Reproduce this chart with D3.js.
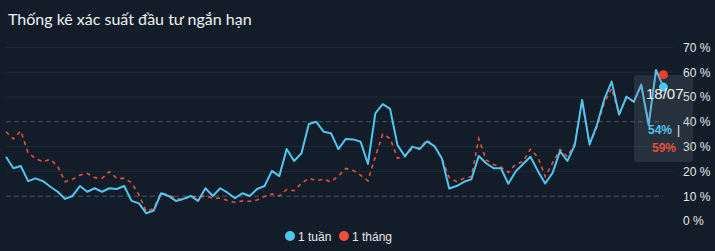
<!DOCTYPE html>
<html><head><meta charset="utf-8">
<script src="https://cdn.jsdelivr.net/npm/d3@7"></script>
<style>
html,body{margin:0;padding:0;background:#131d29;}
svg{display:block;}
</style></head>
<body>
<svg id="c" width="715" height="251"></svg>
<script>
const title = "Thống kê xác suất đầu tư ngắn hạn";
const seriesNames = ["1 tuần", "1 tháng"];
const yTicks = [0, 10, 20, 30, 40, 50, 60, 70];
const dashedTicks = [10, 40];
const tooltipDate = "18/07";
const week = [25.9,21.3,22.2,16.1,17.2,16.1,13.8,11.8,8.9,10.1,14.1,11.8,13.2,11.8,13.2,12.9,14.1,8.1,7.1,3.1,
  4.2,11.2,10.1,8.1,8.9,10.1,8.1,13.2,10.1,13.2,11.4,9.2,11.2,10.1,12.9,14.1,20.2,18.1,29.0,24.2,
  27.3,39.1,40.0,36.0,35.4,29.0,33.1,32.9,32.0,23.0,43.4,47.1,45.2,30.6,26.1,30.0,29.0,32.1,30.2,25.3,
  13.1,14.1,15.8,16.8,26.2,23.3,21.3,21.3,15.0,20.0,23.0,25.9,20.2,15.1,19.4,28.2,24.2,30.6,48.8,30.9,
  38.7,49.1,56.2,42.9,50.1,48.1,55.0,38.7,60.9,54];
const month = [36.0,33.1,36.3,27.4,25.2,23.9,24.9,22.0,15.8,16.8,18.5,19.2,17.5,17.2,19.9,17.2,17.2,15.5,10.5,3.8,
  5.1,11.4,10.5,9.2,8.5,10.1,9.7,10.1,9.2,9.2,8.3,7.5,8.1,7.9,8.5,9.9,10.9,10.1,12.7,12.2,
  15.2,17.2,16.3,16.8,15.8,18.1,21.2,20.4,18.5,16.2,25.9,35.0,33.3,25.3,25.9,29.3,29.5,32.7,30.0,25.3,
  17.5,15.9,17.2,17.9,33.2,24.6,22.8,21.8,19.6,22.9,24.0,28.9,25.8,17.9,23.4,28.9,25.9,31.3,48.0,31.0,
  37.9,47.6,53.5,42.9,50.0,48.0,54.4,40.0,60.0,59];
const colors = ["#4fc6ef", "#e5503b"];

const svg = d3.select("#c");
const N = week.length;
const x = d3.scaleLinear().domain([0, N-1]).range([6, 663.4]);
const y = d3.scaleLinear().domain([0, 70]).range([221, 47.4]);

svg.append("text").attr("x", 8).attr("y", 25).text(title)
  .attr("fill", "#eef1f4").attr("font-family", "Lato").attr("font-size", 16);

// grid
svg.append("g").selectAll("line").data(yTicks.filter(t => t > 0 && !dashedTicks.includes(t))).join("line")
  .attr("x1", 6).attr("x2", 673).attr("y1", d => y(d)).attr("y2", d => y(d))
  .attr("stroke", "#1f2a38").attr("stroke-width", 1);
svg.append("g").selectAll("line").data(dashedTicks).join("line")
  .attr("x1", 6).attr("x2", 663).attr("y1", d => y(d)).attr("y2", d => y(d))
  .attr("stroke", "#4d545d").attr("stroke-width", 1).attr("stroke-dasharray", "5,3");

// y axis labels
const yAxis = d3.axisRight(y).tickValues(yTicks).tickFormat(d => d + " %").tickSize(0).tickPadding(0);
const ga = svg.append("g").attr("transform", "translate(683,0)").call(yAxis);
ga.select(".domain").remove();
ga.selectAll("text").attr("fill", "#e6e8ea").attr("font-family", "Liberation Sans").attr("font-size", 12);

const line = d3.line().x((d, i) => x(i)).y(d => y(d));
svg.append("path").datum(month).attr("d", line).attr("fill", "none")
  .attr("stroke", colors[1]).attr("stroke-width", 1.6).attr("stroke-dasharray", "4,4");
svg.append("path").datum(week).attr("d", line).attr("fill", "none")
  .attr("stroke", colors[0]).attr("stroke-width", 2).attr("stroke-linejoin", "round");

// tooltip box
svg.append("rect").attr("x", 634).attr("y", 75).attr("width", 59).attr("height", 87).attr("rx", 3)
  .attr("fill", "rgba(120,130,145,0.2)");
svg.append("circle").attr("cx", x(N-1)).attr("cy", y(month[N-1])).attr("r", 4.5).attr("fill", "#f0402a");
svg.append("circle").attr("cx", x(N-1)).attr("cy", y(week[N-1])).attr("r", 4.5).attr("fill", "#4fc6ef");
svg.append("text").attr("x", 646).attr("y", 99).text(tooltipDate).attr("fill", "#f2f2f2")
  .attr("font-family", "Liberation Sans").attr("font-size", 15);
svg.append("text").attr("x", 648).attr("y", 134).text(Math.round(week[N-1]) + "%").attr("fill", colors[0])
  .attr("font-family", "Liberation Sans").attr("font-size", 12).attr("font-weight", "bold");
svg.append("text").attr("x", 677).attr("y", 134).text("|").attr("fill", "#f2f2f2")
  .attr("font-family", "Liberation Sans").attr("font-size", 12);
svg.append("text").attr("x", 652).attr("y", 152).text(Math.round(month[N-1]) + "%").attr("fill", colors[1])
  .attr("font-family", "Liberation Sans").attr("font-size", 12).attr("font-weight", "bold");

// legend
const lg = svg.append("g");
const lx = [290, 344];
seriesNames.forEach((n, i) => {
  lg.append("circle").attr("cx", lx[i]).attr("cy", 236).attr("r", 5).attr("fill", i ? "#f0503a" : colors[0]);
  lg.append("text").attr("x", lx[i] + 8).attr("y", 240.5).text(n).attr("fill", "#e6e8ea")
    .attr("font-family", "Liberation Sans").attr("font-size", 12);
});
</script>
</body></html>
